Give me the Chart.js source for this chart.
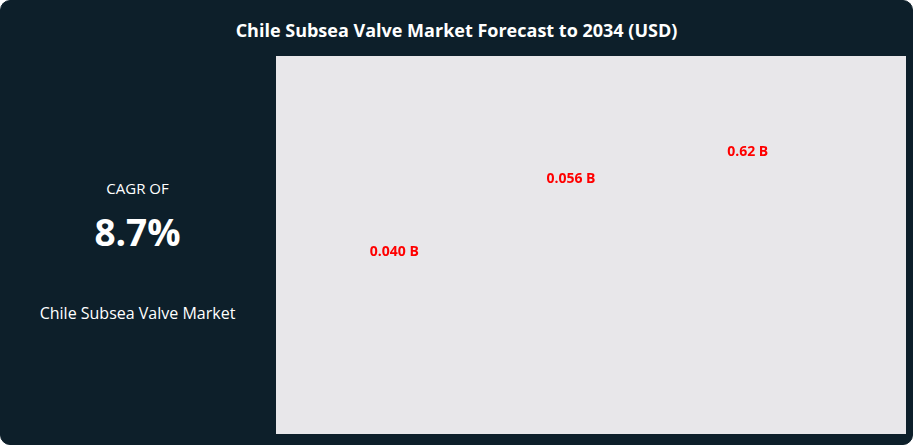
<!DOCTYPE html>
<html><head><meta charset="utf-8">
<script src="https://cdn.jsdelivr.net/npm/chart.js@4"></script>
<style>
body{margin:0;background:#fff;font-family:"Open Sans",sans-serif}
#card{position:absolute;left:0;top:0;width:911px;height:443px;background:#0d1f2a;border-radius:10px;border:1px solid #0d1f2a;overflow:hidden}
#title{position:absolute;left:0;right:0;top:17px;text-align:center;color:#fff;font-weight:700;font-size:18px}
#left{position:absolute;left:0;top:55px;width:273px;height:380px;color:#fff;text-align:center}
#cagr{position:absolute;top:122px;width:100%;font-size:15px}
#pct{position:absolute;top:150px;width:100%;font-size:37px;font-weight:700}
#name{position:absolute;top:246px;width:100%;font-size:16px}
#panel{position:absolute;left:275px;top:55px;width:630px;height:378px;background:#e8e7ea}
</style></head><body>
<div id="card">
<div id="title">Chile Subsea Valve Market Forecast to 2034 (USD)</div>
<div id="left"><div id="cagr">CAGR OF</div><div id="pct">8.7%</div><div id="name">Chile Subsea Valve Market</div></div>
<div id="panel"><canvas id="c"></canvas></div>
</div>
<script>
// values
const categories = ["2024", "2025", "2034"];
const values = [0.040, 0.056, 0.062];
const valueLabels = ["0.040 B", "0.056 B", "0.62 B"];

const labelPlugin = {
  id: 'labels',
  afterDatasetsDraw(chart) {
    const ctx = chart.ctx;
    ctx.save();
    ctx.fillStyle = '#ff0000';
    ctx.font = 'bold 14px "Open Sans"';
    ctx.textAlign = 'center';
    ctx.textBaseline = 'middle';
    chart.getDatasetMeta(0).data.forEach((bar, i) => {
      ctx.fillText(valueLabels[i], bar.x, bar.y);
    });
    ctx.restore();
  }
};

new Chart(document.getElementById('c'), {
  type: 'bar',
  data: { labels: categories, datasets: [{ data: values, backgroundColor: 'rgba(0,0,0,0)' }] },
  options: {
    responsive: true,
    maintainAspectRatio: false,
    animation: false,
    layout: { padding: { left: 30, right: 70, top: 0, bottom: 0 } },
    plugins: { legend: { display: false }, tooltip: { enabled: false } },
    scales: {
      x: { display: false },
      y: { display: false, min: 0, max: 0.083 }
    }
  },
  plugins: [labelPlugin]
});
</script>
</body></html>
